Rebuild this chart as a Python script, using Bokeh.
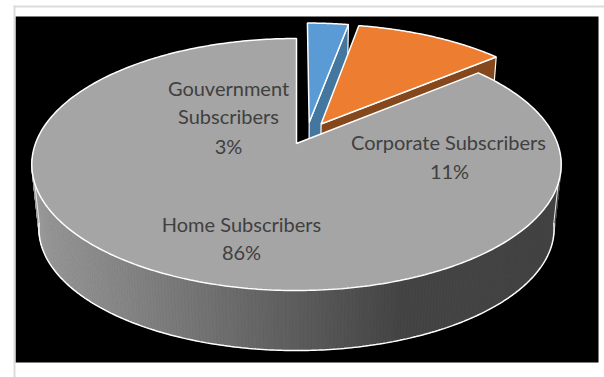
from math import radians, sin, cos

from bokeh.core.properties import value
from bokeh.embed import file_html
from bokeh.models import Range1d
from bokeh.plotting import figure
from bokeh.resources import INLINE

# Share of subscribers by type, in percent
categories = ["Gouvernment Subscribers", "Corporate Subscribers", "Home Subscribers"]
shares = [3, 11, 86]

top_colors = ["#5b9bd5", "#ed7d31", "#a5a5a5"]
side_colors = ["#44779f", "#84481c"]

W, H = 604, 377

# Pie disc in perspective: (a, b, cx, cy) for the upper and lower faces
TILT = 1 / 6
TOP_FACE = (261.0, 122.5, 296.0, 143.0)
LOW_FACE = (254.0, 118.6, 296.0, 207.7)

# Pulled-out slices: offset of the apex in the plane of the disc
OFFSETS = [(0.05, 0.176), (0.0968, 0.1635), (0.0, 0.0)]


def project(u, v, face):
    a, b, cx, cy = face
    d = 1 + TILT * v
    return cx + a * u / d, cy - b * v / d


def slice_outline(start, end, offset, face, steps=120):
    ox, oy = offset
    xs, ys = [], []
    x, y = project(ox, oy, face)
    xs.append(x)
    ys.append(y)
    for i in range(steps + 1):
        t = radians(start + (end - start) * i / steps)
        x, y = project(sin(t) + ox, cos(t) + oy, face)
        xs.append(x)
        ys.append(y)
    return xs, ys


def edge_wall(angle, offset):
    # Cut face of a slice, from the apex to its rim
    ox, oy = offset
    t = radians(angle)
    rim = (sin(t) + ox, cos(t) + oy)
    a1 = project(ox, oy, TOP_FACE)
    a2 = project(*rim, TOP_FACE)
    b2 = project(*rim, LOW_FACE)
    b1 = project(ox, oy, LOW_FACE)
    return [a1[0], a2[0], b2[0], b1[0]], [a1[1], a2[1], b2[1], b1[1]]


def wall_gray(x):
    # Horizontal shading of the outer wall, light on the left, dark on the right
    f = min(max((x - 35) / (400 - 35), 0.0), 1.0)
    g = round(154 + (68 - 154) * f)
    return f"#{g:02x}{g:02x}{g:02x}"


p = figure(
    width=W, height=H,
    x_range=Range1d(0, W), y_range=Range1d(H, 0),
    output_backend="svg", toolbar_location=None,
    min_border=0, outline_line_color=None,
)
p.axis.visible = False
p.grid.visible = False
p.background_fill_color = "white"
p.border_fill_color = "white"

# Chart panel and the thin frame above and left of it
p.quad(left=15, right=598, top=16, bottom=362, fill_color="black", line_color=None)
p.quad(left=13, right=604, top=5, bottom=7, fill_color="#dcdcdc", line_color=None)
p.quad(left=13, right=15, top=5, bottom=H, fill_color="#dcdcdc", line_color=None)

angles = [0]
for s in shares:
    angles.append(angles[-1] + s * 3.6)

# Small slices first, so the large slice overlaps their cut faces
for i in range(2):
    wx, wy = edge_wall(angles[i + 1], OFFSETS[i])
    p.patch(wx, wy, fill_color=side_colors[i], line_color="white", line_width=1.2)
    ox, oy = slice_outline(angles[i], angles[i + 1], OFFSETS[i], TOP_FACE)
    p.patch(ox, oy, fill_color=top_colors[i], line_color="white", line_width=1.5)

# Outer wall of the large slice, built from narrow shaded strips
WALL_FROM, WALL_TO = 97.0, 263.0
STRIPS = 240
for i in range(STRIPS):
    t0 = radians(WALL_FROM + (WALL_TO - WALL_FROM) * i / STRIPS)
    t1 = radians(WALL_FROM + (WALL_TO - WALL_FROM) * (i + 1) / STRIPS)
    a = project(sin(t0), cos(t0), TOP_FACE)
    b = project(sin(t1), cos(t1), TOP_FACE)
    c = project(sin(t1), cos(t1), LOW_FACE)
    d = project(sin(t0), cos(t0), LOW_FACE)
    col = wall_gray((a[0] + b[0] + c[0] + d[0]) / 4)
    p.patch([a[0], b[0], c[0], d[0]], [a[1], b[1], c[1], d[1]],
            fill_color=col, line_color=col, line_width=0.8)

# White rim along the bottom of the wall and its two ends
low = [project(sin(radians(WALL_FROM + (WALL_TO - WALL_FROM) * i / STRIPS)),
               cos(radians(WALL_FROM + (WALL_TO - WALL_FROM) * i / STRIPS)), LOW_FACE)
       for i in range(STRIPS + 1)]
p.line([q[0] for q in low], [q[1] for q in low], line_color="white", line_width=1.5)
for ang in (WALL_FROM, WALL_TO):
    t = radians(ang)
    e0 = project(sin(t), cos(t), TOP_FACE)
    e1 = project(sin(t), cos(t), LOW_FACE)
    p.line([e0[0], e1[0]], [e0[1], e1[1]], line_color="#e8e8e8", line_width=1)

# Top of the large slice
hx, hy = slice_outline(angles[2], angles[3], OFFSETS[2], TOP_FACE, steps=360)
p.patch(hx, hy, fill_color=top_colors[2], line_color="white", line_width=1.5)

# Data labels
FONT = value("Lato")
SIZE = "20px"
INK = "#404040"
label_lines = [
    ("Gouvernment", 228, 87),
    ("Subscribers", 228, 115),
    (f"{shares[0]}%", 228, 145),
    (categories[1], 448, 141),
    (f"{shares[1]}%", 449, 170),
    (categories[2], 241, 223),
    (f"{shares[2]}%", 241, 251),
]
for txt, x, y in label_lines:
    p.text(x=[x], y=[y], text=[txt], text_font=FONT, text_font_size=SIZE,
           text_color=INK, text_align="center", text_baseline="middle")

open("out.html", "w").write(file_html(p, INLINE))
